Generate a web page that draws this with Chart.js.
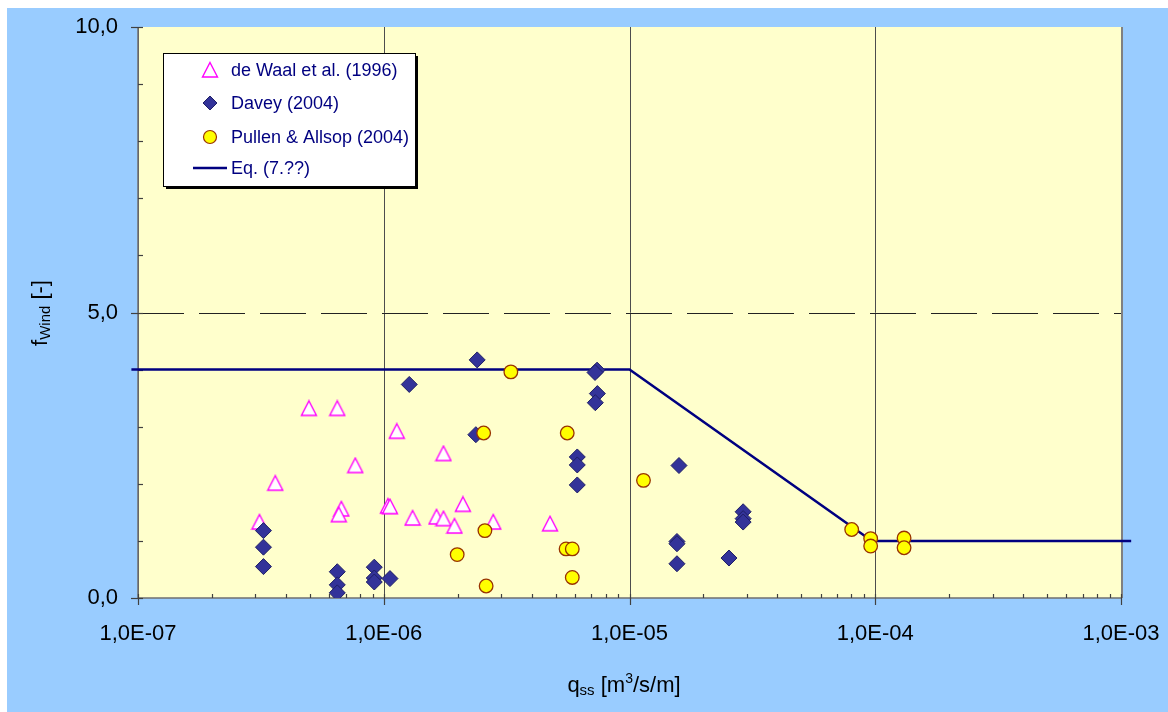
<!DOCTYPE html>
<html lang="en">
<head>
  <meta charset="UTF-8">
  <title>fWind vs qss</title>
  <script src="https://cdn.jsdelivr.net/npm/chart.js"></script>
  <style>
    body {
      margin: 0;
      background: #ffffff;
    }
    canvas {
      display: block;
    }
  </style>
</head>
<body>
  <canvas id="windChart" width="1168" height="712"></canvas>

  <script>
    // axis ticks
    const xTickValues = [1e-7, 1e-6, 1e-5, 1e-4, 1e-3];
    const xTickLabels = ['1,0E-07', '1,0E-06', '1,0E-05', '1,0E-04', '1,0E-03'];
    const yTickValues = [0, 5, 10];
    const yTickLabels = ['0,0', '5,0', '10,0'];

    // de Waal et al. (1996)
    const deWaalX = [3.12e-7, 3.62e-7, 4.96e-7, 6.47e-7, 7.66e-7, 6.72e-7, 6.56e-7, 1.13e-6, 1.04e-6,
                     1.06e-6, 1.31e-6, 1.64e-6, 1.75e-6, 1.75e-6, 1.94e-6, 2.10e-6, 2.79e-6, 4.75e-6];
    const deWaalY = [1.33, 2.01, 3.32, 3.32, 2.32, 1.56, 1.46, 2.92, 1.61,
                     1.60, 1.40, 1.42, 1.39, 2.53, 1.26, 1.64, 1.33, 1.30];

    // Davey (2004)
    const daveyX = [3.24e-7, 3.24e-7, 3.24e-7, 6.47e-7, 6.47e-7, 6.47e-7, 9.15e-7, 9.15e-7, 9.15e-7, 1.06e-6,
                    1.27e-6, 2.40e-6, 2.37e-6, 7.38e-6, 7.24e-6, 7.40e-6, 7.26e-6, 6.13e-6, 6.13e-6, 6.13e-6,
                    1.59e-5, 1.56e-5, 1.56e-5, 1.56e-5, 2.54e-5, 2.90e-5, 2.90e-5, 2.90e-5];
    const daveyY = [1.18, 0.89, 0.55, 0.46, 0.23, 0.09, 0.54, 0.35, 0.28, 0.34,
                    3.74, 4.17, 2.86, 3.99, 3.95, 3.58, 3.42, 2.47, 2.33, 1.98,
                    2.32, 0.99, 0.95, 0.60, 0.70, 1.51, 1.39, 1.33];

    // Pullen & Allsop (2004)
    const pullenX = [3.29e-6, 2.55e-6, 5.58e-6, 1.14e-5, 2.58e-6, 5.52e-6, 5.85e-6, 5.85e-6,
                     1.99e-6, 2.61e-6, 8.02e-5, 9.58e-5, 9.58e-5, 1.31e-4, 1.31e-4];
    const pullenY = [3.96, 2.89, 2.89, 2.06, 1.18, 0.86, 0.86, 0.36,
                     0.76, 0.21, 1.20, 1.04, 0.91, 1.05, 0.88];

    // Eq. (7.??)
    const eqX = [9.4e-8, 1e-5, 9.7e-5, 1.1e-3];
    const eqY = [4, 4, 1, 1];

    const FONT = "'Liberation Sans', Arial, sans-serif";
    const toPoints = (xs, ys) => xs.map((x, i) => ({ x: x, y: ys[i] }));

    // excel-like triangle marker, centred on its box
    function makeTriangle() {
      const c = document.createElement('canvas');
      c.width = 18;
      c.height = 18;
      const g = c.getContext('2d');
      g.beginPath();
      g.moveTo(9, 1.5);
      g.lineTo(16.5, 16);
      g.lineTo(1.5, 16);
      g.closePath();
      g.fillStyle = '#ffffff';
      g.fill();
      g.strokeStyle = '#ff00ff';
      g.lineWidth = 1.4;
      g.stroke();
      return c;
    }
    const triangle = makeTriangle();

    function labelFor(value, values, labels) {
      for (let i = 0; i < values.length; i++) {
        if (Math.abs(value - values[i]) <= Math.abs(values[i]) * 1e-6 + 1e-12) return labels[i];
      }
      return '';
    }

    const framePlugin = {
      id: 'frame',
      beforeDraw(chart) {
        const { ctx, chartArea: a } = chart;
        ctx.save();
        ctx.fillStyle = '#ffffff';
        ctx.fillRect(0, 0, chart.width, chart.height);
        ctx.fillStyle = '#99ccff';
        ctx.fillRect(7, 8, chart.width - 7, chart.height - 8);
        ctx.fillStyle = '#ffffcc';
        ctx.fillRect(a.left, a.top, a.right - a.left, a.bottom - a.top);
        ctx.restore();
      },
      beforeDatasetsDraw(chart) {
        const { ctx, chartArea: a, scales: { x, y } } = chart;
        ctx.save();

        // vertical grid lines at decades
        ctx.strokeStyle = '#4d4d4d';
        ctx.lineWidth = 1;
        xTickValues.forEach(v => {
          const px = Math.round(x.getPixelForValue(v)) + 0.5;
          ctx.beginPath();
          ctx.moveTo(px, a.top);
          ctx.lineTo(px, a.bottom);
          ctx.stroke();
        });

        // dashed line at 5
        const py5 = Math.round(y.getPixelForValue(5)) + 0.5;
        ctx.strokeStyle = '#222222';
        ctx.setLineDash([46, 15]);
        ctx.beginPath();
        ctx.moveTo(a.left, py5);
        ctx.lineTo(a.right, py5);
        ctx.stroke();
        ctx.setLineDash([]);

        // right border
        ctx.strokeStyle = '#808080';
        ctx.lineWidth = 2;
        ctx.beginPath();
        ctx.moveTo(a.right + 1, a.top);
        ctx.lineTo(a.right + 1, a.bottom);
        ctx.stroke();

        // axis lines
        ctx.strokeStyle = '#707070';
        ctx.lineWidth = 1.5;
        ctx.beginPath();
        ctx.moveTo(a.left, a.top);
        ctx.lineTo(a.left, a.bottom);
        ctx.lineTo(a.right, a.bottom);
        ctx.stroke();

        // tick marks
        ctx.strokeStyle = '#404040';
        ctx.lineWidth = 1.2;
        x.ticks.forEach(t => {
          const px = Math.round(x.getPixelForValue(t.value)) + 0.5;
          const major = labelFor(t.value, xTickValues, xTickLabels) !== '';
          ctx.beginPath();
          ctx.moveTo(px, a.bottom - 4);
          ctx.lineTo(px, a.bottom + (major ? 7 : 0));
          ctx.stroke();
        });
        y.ticks.forEach(t => {
          const py = Math.round(y.getPixelForValue(t.value)) + 0.5;
          const major = labelFor(t.value, yTickValues, yTickLabels) !== '';
          ctx.beginPath();
          ctx.moveTo(a.left - (major ? 7 : 0), py);
          ctx.lineTo(a.left + 5, py);
          ctx.stroke();
        });

        // axis titles
        ctx.fillStyle = '#000000';
        ctx.textBaseline = 'alphabetic';
        ctx.textAlign = 'left';
        const xParts = [
          { t: 'q', f: 22, dy: 0 },
          { t: 'ss', f: 15, dy: 3 },
          { t: ' [m', f: 22, dy: 0 },
          { t: '3', f: 14, dy: -9 },
          { t: '/s/m]', f: 22, dy: 0 }
        ];
        drawParts(ctx, xParts, 624, 692);

        ctx.translate(47, 313);
        ctx.rotate(-Math.PI / 2);
        const yParts = [
          { t: 'f', f: 22, dy: 0 },
          { t: 'Wind', f: 15, dy: 3 },
          { t: ' [-]', f: 22, dy: 0 }
        ];
        drawParts(ctx, yParts, 0, 0);
        ctx.restore();
      },
      afterDatasetsDraw(chart) {
        const { ctx } = chart;
        const ds = chart.data.datasets;
        const L = 163, T = 53, R = 415, B = 186;
        ctx.save();
        ctx.fillStyle = '#000000';
        ctx.fillRect(L + 3, T + 3, R - L, B - T);
        ctx.fillStyle = '#ffffff';
        ctx.fillRect(L, T, R - L, B - T);
        ctx.strokeStyle = '#000000';
        ctx.lineWidth = 1;
        ctx.strokeRect(L + 0.5, T + 0.5, R - L, B - T);

        const rows = [70, 103, 137, 168];
        const mx = 210;
        ctx.drawImage(triangle, mx - 9, rows[0] - 9);

        ctx.beginPath();
        ctx.moveTo(mx, rows[1] - 7);
        ctx.lineTo(mx + 7, rows[1]);
        ctx.lineTo(mx, rows[1] + 7);
        ctx.lineTo(mx - 7, rows[1]);
        ctx.closePath();
        ctx.fillStyle = ds[1].backgroundColor;
        ctx.fill();
        ctx.strokeStyle = ds[1].borderColor;
        ctx.stroke();

        ctx.beginPath();
        ctx.arc(mx, rows[2], 6.5, 0, Math.PI * 2);
        ctx.fillStyle = ds[2].backgroundColor;
        ctx.fill();
        ctx.strokeStyle = ds[2].borderColor;
        ctx.lineWidth = 1.2;
        ctx.stroke();

        ctx.beginPath();
        ctx.moveTo(193, rows[3]);
        ctx.lineTo(227, rows[3]);
        ctx.strokeStyle = ds[3].borderColor;
        ctx.lineWidth = 2.5;
        ctx.stroke();

        ctx.fillStyle = '#000080';
        ctx.font = '18px ' + FONT;
        ctx.textBaseline = 'middle';
        ctx.textAlign = 'left';
        ds.forEach((d, i) => ctx.fillText(d.label, 231, rows[i] + 1));
        ctx.restore();
      }
    };

    function drawParts(ctx, parts, cx, baseY) {
      let total = 0;
      parts.forEach(p => {
        ctx.font = p.f + 'px ' + FONT;
        p.w = ctx.measureText(p.t).width;
        total += p.w;
      });
      let xp = cx - total / 2;
      parts.forEach(p => {
        ctx.font = p.f + 'px ' + FONT;
        ctx.fillText(p.t, xp, baseY + p.dy);
        xp += p.w;
      });
    }

    const ctx = document.getElementById('windChart').getContext('2d');
    new Chart(ctx, {
      type: 'scatter',
      data: {
        datasets: [
          {
            label: 'de Waal et al. (1996)',
            data: toPoints(deWaalX, deWaalY),
            pointStyle: triangle,
            borderColor: '#ff00ff',
            backgroundColor: '#ffffff',
            order: 3
          },
          {
            label: 'Davey (2004)',
            data: toPoints(daveyX, daveyY),
            pointStyle: 'rectRot',
            pointRadius: 8,
            borderWidth: 1,
            borderColor: '#1f1f66',
            backgroundColor: '#333399',
            order: 2
          },
          {
            label: 'Pullen & Allsop (2004)',
            data: toPoints(pullenX, pullenY),
            pointStyle: 'circle',
            pointRadius: 6.8,
            borderWidth: 1.3,
            borderColor: '#993300',
            backgroundColor: '#ffff00',
            order: 1
          },
          {
            type: 'line',
            label: 'Eq. (7.??)',
            data: toPoints(eqX, eqY),
            borderColor: '#000080',
            borderWidth: 2.5,
            pointRadius: 0,
            tension: 0,
            fill: false,
            clip: false,
            order: 4
          }
        ]
      },
      options: {
        responsive: false,
        animation: false,
        layout: { padding: { top: 27, right: 47, left: 0, bottom: 0 } },
        plugins: {
          legend: { display: false },
          tooltip: { enabled: false }
        },
        scales: {
          x: {
            type: 'logarithmic',
            min: 1e-7,
            max: 1e-3,
            grid: { display: false },
            border: { display: false },
            afterFit(scale) {
              scale.height = 114;
              scale.paddingLeft = 0;
              scale.paddingRight = 0;
            },
            afterBuildTicks(scale) {
              const ticks = [];
              for (let e = -7; e < -3; e++) {
                for (let m = 1; m < 10; m++) ticks.push({ value: m * Math.pow(10, e) });
              }
              ticks.push({ value: 1e-3 });
              scale.ticks = ticks;
            },
            ticks: {
              autoSkip: false,
              maxRotation: 0,
              padding: 15,
              color: '#000000',
              font: { family: FONT, size: 22 },
              callback: v => labelFor(v, xTickValues, xTickLabels)
            }
          },
          y: {
            min: 0,
            max: 10,
            grid: { display: false },
            border: { display: false },
            afterFit(scale) {
              scale.width = 138;
              scale.paddingTop = 0;
              scale.paddingBottom = 0;
            },
            afterBuildTicks(scale) {
              const ticks = [];
              for (let v = 0; v <= 10; v++) ticks.push({ value: v });
              scale.ticks = ticks;
            },
            ticks: {
              autoSkip: false,
              padding: 12,
              color: '#000000',
              font: { family: FONT, size: 22 },
              callback: v => labelFor(v, yTickValues, yTickLabels)
            }
          }
        }
      },
      plugins: [framePlugin]
    });
  </script>
</body>
</html>
